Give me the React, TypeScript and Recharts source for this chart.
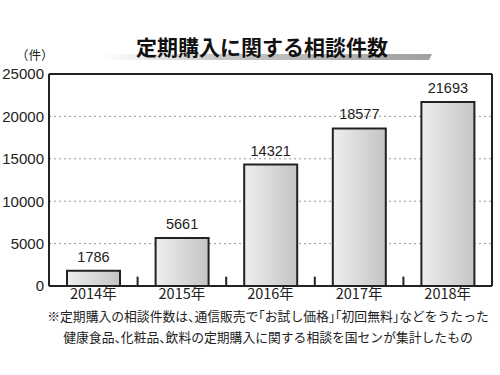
import React from "react";
import { BarChart, Bar, XAxis, YAxis, CartesianGrid, LabelList, ReferenceLine } from "recharts";

const years = ["2014年", "2015年", "2016年", "2017年", "2018年"];
const counts = [1786, 5661, 14321, 18577, 21693];
const yTicks = [0, 5000, 10000, 15000, 20000, 25000];
const boundaries = [1, 2, 3, 4];
const title = "定期購入に関する相談件数";
const unit = "（件）";
const noteLines = [
  "※定期購入の相談件数は、通信販売で「お試し価格」「初回無料」などをうたった",
  "健康食品、化粧品、飲料の定期購入に関する相談を国センが集計したもの",
];

const data = years.map((y, i) => ({ pos: i + 0.5, year: y, value: counts[i] }));
const xTicks = data.map((d) => d.pos);
const cjk = "'Noto Sans CJK JP', 'Noto Sans', sans-serif";
const num = "'Liberation Sans', Arial, sans-serif";
const tickMark = 1100;

export default function App() {
  return (
    <div style={{ position: "absolute", left: 0, top: 0, width: 500, height: 375, background: "#fff", fontFamily: cjk }}>
      <svg width={500} height={375} style={{ position: "absolute", left: 0, top: 0 }}>
        <defs>
          <linearGradient id="ul" x1="0" y1="0" x2="1" y2="0">
            <stop offset="0" stopColor="#ffffff" />
            <stop offset="0.35" stopColor="#c8c8c8" />
            <stop offset="1" stopColor="#a0a0a0" />
          </linearGradient>
        </defs>
        <polygon points="103,54 432,54 429,60 103,60" fill="url(#ul)" />
        <text x={262} y={55} textAnchor="middle" fontSize={21} fontWeight={700} fill="#111" fontFamily={cjk}>
          {title}
        </text>
      </svg>
      <div style={{ position: "absolute", left: 16, top: 47, fontSize: 12.5, lineHeight: "16px", color: "#222" }}>{unit}</div>
      <div style={{ position: "absolute", left: 0, top: 0 }}>
        <BarChart width={500} height={375} data={data} margin={{ top: 74, right: 8, bottom: 69, left: 0 }}>
          <defs>
            <linearGradient id="bg" x1="0" y1="0" x2="1" y2="0">
              <stop offset="0" stopColor="#eeeeee" />
              <stop offset="1" stopColor="#c4c4c4" />
            </linearGradient>
          </defs>
          <CartesianGrid vertical={false} stroke="#999" strokeDasharray="2 3" />
          <XAxis
            dataKey="pos"
            type="number"
            domain={[0, 5]}
            ticks={xTicks}
            tickFormatter={(v: number) => years[Math.round(v - 0.5)]}
            height={20}
            tickLine={false}
            tickSize={0}
            axisLine={{ stroke: "#222", strokeWidth: 2 }}
            tick={{ fontSize: 14.5, fill: "#222", fontFamily: cjk }}
            tickMargin={3}
          />
          <YAxis
            width={49}
            domain={[0, 25000]}
            ticks={yTicks}
            tickLine={false}
            tickSize={3}
            axisLine={{ stroke: "#222", strokeWidth: 2 }}
            tick={{ fontSize: 15, fill: "#222", fontFamily: num }}
            tickMargin={2}
          />
          <ReferenceLine y={25000} stroke="#222" strokeWidth={2} />
          <ReferenceLine x={5} stroke="#222" strokeWidth={2} />
          {boundaries.map((b) => (
            <ReferenceLine
              key={b}
              segment={[
                { x: b, y: 0 },
                { x: b, y: tickMark },
              ]}
              stroke="#222"
              strokeWidth={2}
            />
          ))}
          <Bar dataKey="value" barSize={53} fill="url(#bg)" stroke="#222" strokeWidth={2} isAnimationActive={false}>
            <LabelList dataKey="value" position="top" offset={9} style={{ fontSize: 14.5, fill: "#222", fontFamily: num }} />
          </Bar>
        </BarChart>
      </div>
      <div
        style={{
          position: "absolute",
          left: 0,
          width: 536,
          top: 305,
          textAlign: "center",
          fontSize: 12.8,
          lineHeight: "21px",
          color: "#222",
          whiteSpace: "nowrap",
          fontFeatureSettings: "'halt'",
        }}
      >
        {noteLines.map((l, i) => (
          <div key={i}>{l}</div>
        ))}
      </div>
    </div>
  );
}
